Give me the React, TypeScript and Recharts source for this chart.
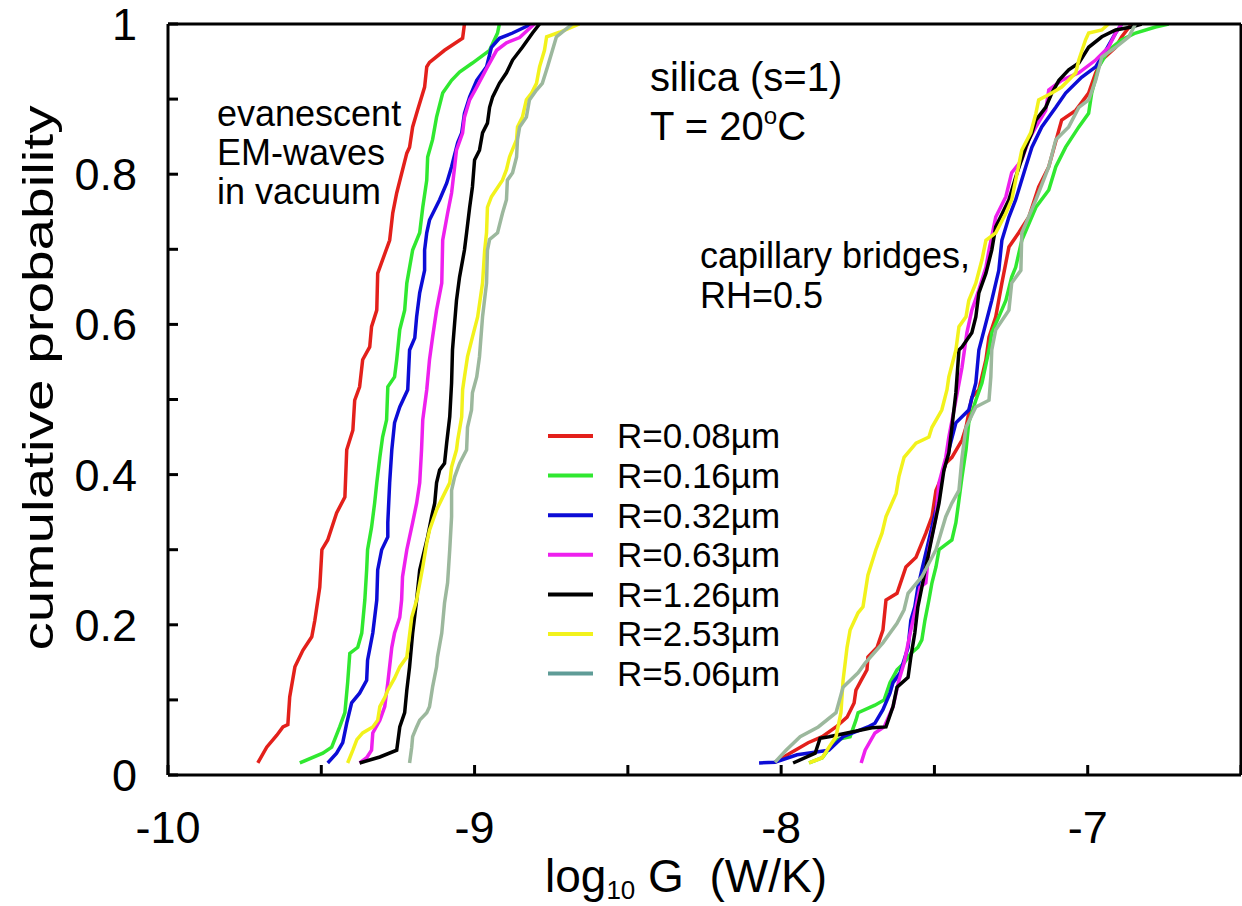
import { LineChart, Line, XAxis, YAxis, Legend } from "recharts";

type Pt = [number, number];

const font = '"Liberation Sans", Arial, Helvetica, sans-serif';

const radii = ["0.08", "0.16", "0.32", "0.63", "1.26", "2.53", "5.06"];
const lineColors = ["#e3201b", "#30e830", "#0c0cd6", "#ee20ee", "#000000", "#f2f21c", "#9cb89d"];
const legendColors = ["#e3201b", "#30e830", "#0c0cd6", "#ee20ee", "#000000", "#f2f21c", "#5f9c97"];

const xTicks = [-10, -9.5, -9, -8.5, -8, -7.5, -7, -6.5];
const yTicks = [0, 0.1, 0.2, 0.3, 0.4, 0.5, 0.6, 0.7, 0.8, 0.9, 1];

// evanescent EM-waves in vacuum (left group): [log10 G, cumulative probability]
const vacRed: Pt[] = [
  [-9.707, 0.016], [-9.678, 0.037], [-9.645, 0.053], [-9.625, 0.064], [-9.609, 0.067], [-9.603, 0.104],
  [-9.586, 0.144], [-9.56, 0.166], [-9.531, 0.184], [-9.521, 0.206], [-9.505, 0.25], [-9.498, 0.3],
  [-9.479, 0.313], [-9.45, 0.349], [-9.423, 0.37], [-9.417, 0.433], [-9.397, 0.459], [-9.391, 0.499],
  [-9.375, 0.517], [-9.365, 0.553], [-9.342, 0.57], [-9.336, 0.597], [-9.319, 0.619], [-9.316, 0.668],
  [-9.277, 0.712], [-9.267, 0.748], [-9.254, 0.775], [-9.221, 0.828], [-9.212, 0.836], [-9.202, 0.863],
  [-9.186, 0.885], [-9.163, 0.916], [-9.156, 0.943], [-9.147, 0.949], [-9.098, 0.965], [-9.039, 0.981],
  [-9.033, 1.0],
];
const vacGreen: Pt[] = [
  [-9.57, 0.016], [-9.495, 0.029], [-9.466, 0.037], [-9.44, 0.064], [-9.423, 0.083], [-9.414, 0.123],
  [-9.407, 0.162], [-9.381, 0.17], [-9.368, 0.189], [-9.358, 0.233], [-9.352, 0.273], [-9.349, 0.3],
  [-9.336, 0.33], [-9.326, 0.362], [-9.319, 0.389], [-9.309, 0.423], [-9.3, 0.45], [-9.287, 0.473],
  [-9.283, 0.517], [-9.261, 0.53], [-9.254, 0.553], [-9.244, 0.593], [-9.228, 0.619], [-9.221, 0.655],
  [-9.202, 0.699], [-9.179, 0.722], [-9.169, 0.756], [-9.156, 0.792], [-9.153, 0.823], [-9.137, 0.846],
  [-9.124, 0.876], [-9.104, 0.908], [-9.075, 0.925], [-9.049, 0.936], [-9.007, 0.948], [-8.951, 0.965],
  [-8.925, 0.988], [-8.919, 1.0],
];
const vacBlue: Pt[] = [
  [-9.479, 0.016], [-9.45, 0.029], [-9.43, 0.043], [-9.417, 0.069], [-9.401, 0.096], [-9.375, 0.109],
  [-9.352, 0.126], [-9.349, 0.153], [-9.332, 0.189], [-9.319, 0.233], [-9.316, 0.273], [-9.303, 0.3],
  [-9.283, 0.317], [-9.283, 0.336], [-9.277, 0.389], [-9.27, 0.433], [-9.261, 0.469], [-9.244, 0.49],
  [-9.218, 0.513], [-9.212, 0.566], [-9.195, 0.582], [-9.189, 0.61], [-9.179, 0.642], [-9.163, 0.672],
  [-9.163, 0.699], [-9.156, 0.722], [-9.147, 0.739], [-9.114, 0.766], [-9.091, 0.788], [-9.075, 0.81],
  [-9.055, 0.842], [-9.042, 0.855], [-9.033, 0.881], [-9.016, 0.903], [-8.993, 0.925], [-8.961, 0.943],
  [-8.945, 0.969], [-8.919, 0.981], [-8.876, 0.988], [-8.814, 1.0],
];
const vacMagenta: Pt[] = [
  [-9.375, 0.016], [-9.352, 0.023], [-9.336, 0.033], [-9.332, 0.056], [-9.309, 0.073], [-9.293, 0.091],
  [-9.283, 0.123], [-9.27, 0.17], [-9.261, 0.189], [-9.244, 0.21], [-9.238, 0.233], [-9.235, 0.264],
  [-9.221, 0.3], [-9.212, 0.317], [-9.202, 0.336], [-9.189, 0.362], [-9.179, 0.389], [-9.173, 0.433],
  [-9.169, 0.473], [-9.156, 0.513], [-9.147, 0.553], [-9.137, 0.583], [-9.124, 0.619], [-9.107, 0.655],
  [-9.104, 0.712], [-9.088, 0.748], [-9.075, 0.775], [-9.065, 0.81], [-9.059, 0.832], [-9.039, 0.855],
  [-9.033, 0.876], [-9.016, 0.899], [-8.993, 0.916], [-8.958, 0.943], [-8.928, 0.965], [-8.896, 0.975],
  [-8.853, 0.982], [-8.805, 1.0],
];
const vacBlack: Pt[] = [
  [-9.375, 0.016], [-9.309, 0.024], [-9.254, 0.033], [-9.244, 0.064], [-9.228, 0.083], [-9.221, 0.113],
  [-9.212, 0.144], [-9.202, 0.189], [-9.189, 0.233], [-9.179, 0.273], [-9.169, 0.29], [-9.153, 0.317],
  [-9.14, 0.344], [-9.13, 0.362], [-9.124, 0.389], [-9.114, 0.406], [-9.098, 0.415], [-9.091, 0.442],
  [-9.081, 0.477], [-9.075, 0.522], [-9.072, 0.566], [-9.065, 0.602], [-9.059, 0.632], [-9.049, 0.663],
  [-9.033, 0.699], [-9.026, 0.722], [-9.016, 0.756], [-9.007, 0.783], [-9.0, 0.819], [-8.984, 0.832],
  [-8.974, 0.855], [-8.958, 0.868], [-8.951, 0.889], [-8.941, 0.903], [-8.919, 0.921], [-8.896, 0.935],
  [-8.876, 0.952], [-8.844, 0.969], [-8.811, 0.988], [-8.788, 1.0],
];
const vacYellow: Pt[] = [
  [-9.414, 0.016], [-9.397, 0.033], [-9.384, 0.047], [-9.365, 0.056], [-9.332, 0.064], [-9.316, 0.073],
  [-9.309, 0.091], [-9.293, 0.103], [-9.283, 0.113], [-9.261, 0.129], [-9.244, 0.144], [-9.221, 0.157],
  [-9.205, 0.21], [-9.189, 0.233], [-9.169, 0.277], [-9.156, 0.309], [-9.147, 0.326], [-9.124, 0.353],
  [-9.104, 0.37], [-9.081, 0.389], [-9.075, 0.41], [-9.059, 0.433], [-9.055, 0.446], [-9.042, 0.477],
  [-9.039, 0.513], [-9.033, 0.53], [-9.023, 0.557], [-9.007, 0.583], [-8.99, 0.61], [-8.974, 0.655],
  [-8.967, 0.699], [-8.961, 0.722], [-8.958, 0.756], [-8.945, 0.77], [-8.909, 0.792], [-8.896, 0.806],
  [-8.886, 0.823], [-8.863, 0.846], [-8.86, 0.863], [-8.844, 0.876], [-8.831, 0.899], [-8.814, 0.908],
  [-8.798, 0.921], [-8.788, 0.943], [-8.772, 0.965], [-8.765, 0.983], [-8.723, 0.989], [-8.658, 1.0],
];
const vacGray: Pt[] = [
  [-9.212, 0.016], [-9.205, 0.037], [-9.202, 0.051], [-9.189, 0.064], [-9.179, 0.073], [-9.156, 0.083],
  [-9.147, 0.091], [-9.137, 0.117], [-9.124, 0.144], [-9.121, 0.157], [-9.107, 0.189], [-9.098, 0.229],
  [-9.088, 0.256], [-9.081, 0.3], [-9.075, 0.344], [-9.075, 0.379], [-9.065, 0.397], [-9.049, 0.415],
  [-9.026, 0.433], [-9.023, 0.463], [-9.01, 0.486], [-9.007, 0.509], [-8.993, 0.53], [-8.984, 0.557],
  [-8.974, 0.61], [-8.961, 0.655], [-8.958, 0.699], [-8.951, 0.713], [-8.925, 0.722], [-8.909, 0.748],
  [-8.896, 0.766], [-8.893, 0.792], [-8.876, 0.802], [-8.863, 0.823], [-8.86, 0.846], [-8.853, 0.863],
  [-8.831, 0.876], [-8.821, 0.899], [-8.798, 0.912], [-8.779, 0.921], [-8.762, 0.943], [-8.746, 0.965],
  [-8.733, 0.983], [-8.681, 1.0],
];

// capillary bridges, RH=0.5 (right group)
const capRed: Pt[] = [
  [-8.02, 0.017], [-7.971, 0.029], [-7.912, 0.043], [-7.866, 0.051], [-7.821, 0.064], [-7.785, 0.077],
  [-7.762, 0.096], [-7.756, 0.113], [-7.739, 0.126], [-7.72, 0.14], [-7.717, 0.157], [-7.687, 0.17],
  [-7.668, 0.193], [-7.658, 0.233], [-7.622, 0.242], [-7.593, 0.277], [-7.56, 0.29], [-7.528, 0.322],
  [-7.508, 0.344], [-7.495, 0.379], [-7.476, 0.397], [-7.463, 0.415], [-7.443, 0.423], [-7.41, 0.446],
  [-7.397, 0.463], [-7.378, 0.503], [-7.355, 0.513], [-7.332, 0.553], [-7.322, 0.583], [-7.3, 0.61],
  [-7.28, 0.655], [-7.257, 0.703], [-7.225, 0.722], [-7.192, 0.743], [-7.16, 0.783], [-7.127, 0.81],
  [-7.085, 0.872], [-7.039, 0.885], [-6.997, 0.908], [-6.974, 0.935], [-6.954, 0.952], [-6.909, 0.969],
  [-6.889, 0.983], [-6.857, 1.0],
];
const capGreen: Pt[] = [
  [-7.909, 0.016], [-7.866, 0.023], [-7.821, 0.047], [-7.775, 0.051], [-7.756, 0.073], [-7.749, 0.083],
  [-7.694, 0.093], [-7.664, 0.1], [-7.645, 0.123], [-7.622, 0.14], [-7.599, 0.149], [-7.577, 0.162],
  [-7.554, 0.17], [-7.541, 0.18], [-7.531, 0.206], [-7.518, 0.233], [-7.508, 0.256], [-7.495, 0.277],
  [-7.485, 0.3], [-7.443, 0.313], [-7.43, 0.336], [-7.42, 0.366], [-7.41, 0.397], [-7.397, 0.433],
  [-7.388, 0.469], [-7.365, 0.499], [-7.345, 0.522], [-7.322, 0.566], [-7.313, 0.589], [-7.29, 0.61],
  [-7.267, 0.632], [-7.248, 0.663], [-7.235, 0.676], [-7.215, 0.712], [-7.169, 0.756], [-7.127, 0.779],
  [-7.104, 0.81], [-7.072, 0.836], [-7.029, 0.863], [-6.997, 0.881], [-6.987, 0.908], [-6.964, 0.943],
  [-6.932, 0.965], [-6.889, 0.979], [-6.844, 0.988], [-6.779, 0.996], [-6.736, 1.0],
];
const capBlue: Pt[] = [
  [-8.072, 0.016], [-8.02, 0.017], [-7.948, 0.027], [-7.879, 0.031], [-7.844, 0.033], [-7.798, 0.051],
  [-7.717, 0.064], [-7.694, 0.069], [-7.668, 0.087], [-7.645, 0.109], [-7.635, 0.123], [-7.612, 0.136],
  [-7.586, 0.17], [-7.577, 0.206], [-7.564, 0.224], [-7.554, 0.25], [-7.541, 0.273], [-7.518, 0.313],
  [-7.495, 0.353], [-7.476, 0.397], [-7.453, 0.433], [-7.43, 0.469], [-7.388, 0.486], [-7.365, 0.522],
  [-7.355, 0.566], [-7.332, 0.602], [-7.313, 0.632], [-7.29, 0.672], [-7.28, 0.712], [-7.257, 0.743],
  [-7.235, 0.766], [-7.202, 0.81], [-7.182, 0.836], [-7.15, 0.863], [-7.104, 0.889], [-7.072, 0.908],
  [-7.02, 0.929], [-6.974, 0.943], [-6.941, 0.965], [-6.909, 0.988], [-6.889, 1.0],
];
const capMagenta: Pt[] = [
  [-7.739, 0.016], [-7.726, 0.033], [-7.694, 0.056], [-7.664, 0.064], [-7.635, 0.091], [-7.616, 0.126],
  [-7.599, 0.149], [-7.577, 0.193], [-7.56, 0.224], [-7.547, 0.25], [-7.528, 0.256], [-7.518, 0.3],
  [-7.495, 0.344], [-7.485, 0.389], [-7.463, 0.423], [-7.453, 0.45], [-7.43, 0.499], [-7.41, 0.543],
  [-7.394, 0.589], [-7.378, 0.619], [-7.355, 0.646], [-7.332, 0.676], [-7.322, 0.699], [-7.3, 0.743],
  [-7.267, 0.77], [-7.248, 0.802], [-7.215, 0.819], [-7.192, 0.846], [-7.169, 0.863], [-7.137, 0.885],
  [-7.127, 0.912], [-7.085, 0.925], [-7.029, 0.935], [-6.974, 0.952], [-6.932, 0.969], [-6.909, 0.988],
  [-6.889, 1.0],
];
const capBlack: Pt[] = [
  [-7.961, 0.016], [-7.889, 0.029], [-7.873, 0.049], [-7.844, 0.051], [-7.785, 0.056], [-7.704, 0.063],
  [-7.658, 0.064], [-7.635, 0.091], [-7.622, 0.117], [-7.586, 0.13], [-7.577, 0.157], [-7.564, 0.189],
  [-7.554, 0.224], [-7.541, 0.25], [-7.528, 0.277], [-7.508, 0.317], [-7.485, 0.362], [-7.469, 0.406],
  [-7.453, 0.429], [-7.443, 0.463], [-7.43, 0.509], [-7.42, 0.566], [-7.41, 0.57], [-7.378, 0.589],
  [-7.365, 0.61], [-7.355, 0.642], [-7.332, 0.668], [-7.313, 0.699], [-7.3, 0.73], [-7.257, 0.766],
  [-7.235, 0.796], [-7.202, 0.836], [-7.182, 0.855], [-7.169, 0.872], [-7.137, 0.889], [-7.117, 0.908],
  [-7.094, 0.925], [-7.062, 0.939], [-7.029, 0.948], [-6.997, 0.969], [-6.954, 0.983], [-6.909, 0.992],
  [-6.857, 0.996], [-6.824, 1.0],
];
const capYellow: Pt[] = [
  [-7.909, 0.016], [-7.866, 0.023], [-7.844, 0.037], [-7.821, 0.051], [-7.805, 0.083], [-7.798, 0.126],
  [-7.785, 0.17], [-7.775, 0.193], [-7.749, 0.216], [-7.733, 0.224], [-7.717, 0.266], [-7.691, 0.3],
  [-7.671, 0.322], [-7.658, 0.344], [-7.625, 0.375], [-7.616, 0.397], [-7.599, 0.423], [-7.56, 0.442],
  [-7.518, 0.45], [-7.508, 0.463], [-7.476, 0.486], [-7.459, 0.513], [-7.453, 0.53], [-7.43, 0.566],
  [-7.42, 0.597], [-7.397, 0.61], [-7.388, 0.632], [-7.365, 0.655], [-7.345, 0.686], [-7.332, 0.712],
  [-7.3, 0.722], [-7.267, 0.748], [-7.248, 0.766], [-7.235, 0.792], [-7.215, 0.832], [-7.186, 0.855],
  [-7.169, 0.881], [-7.16, 0.899], [-7.117, 0.908], [-7.085, 0.916], [-7.039, 0.935], [-7.029, 0.952],
  [-7.007, 0.979], [-6.997, 0.988], [-6.954, 0.992], [-6.932, 1.0],
];
const capGray: Pt[] = [
  [-8.02, 0.017], [-7.984, 0.033], [-7.938, 0.051], [-7.879, 0.064], [-7.821, 0.083], [-7.798, 0.117],
  [-7.749, 0.136], [-7.726, 0.149], [-7.668, 0.176], [-7.622, 0.202], [-7.599, 0.22], [-7.586, 0.242],
  [-7.541, 0.264], [-7.495, 0.3], [-7.463, 0.344], [-7.443, 0.362], [-7.42, 0.379], [-7.41, 0.423],
  [-7.397, 0.463], [-7.365, 0.49], [-7.322, 0.499], [-7.316, 0.53], [-7.313, 0.566], [-7.3, 0.593],
  [-7.257, 0.619], [-7.248, 0.655], [-7.218, 0.672], [-7.215, 0.722], [-7.169, 0.766], [-7.127, 0.81],
  [-7.104, 0.846], [-7.062, 0.863], [-7.029, 0.889], [-6.997, 0.899], [-6.974, 0.925], [-6.954, 0.956],
  [-6.909, 0.969], [-6.866, 0.983], [-6.844, 1.0],
];

const vacuum = [vacRed, vacGreen, vacBlue, vacMagenta, vacBlack, vacYellow, vacGray];
const capillary = [capRed, capGreen, capBlue, capMagenta, capBlack, capYellow, capGray];

const toRows = (pts: Pt[]) => pts.map(([g, p]) => ({ g, p }));

const axisStyle = { stroke: "#000", strokeWidth: 3 };
const tickFont = { fill: "#000", fontSize: 45, fontFamily: font };

const fmtX = (v: number) => (Number.isInteger(v) ? String(v) : "");
const fmtY = (v: number) => (Math.round(v * 10) % 2 === 0 ? String(v) : "");

function LegendBox() {
  return (
    <svg width={260} height={280} style={{ display: "block" }}>
      {radii.map((r, i) => {
        const cy = 20 + i * 39.6;
        return (
          <g key={r}>
            <line x1={8} x2={53} y1={cy} y2={cy} stroke={legendColors[i]} strokeWidth={4} />
            <text x={77} y={cy + 12.4} fontSize={35} fontFamily={font} fill="#000">
              {`R=${r}\u00b5m`}
            </text>
          </g>
        );
      })}
    </svg>
  );
}

export default function App() {
  return (
    <div style={{ position: "absolute", left: 0, top: 0, width: 1242, height: 906, background: "#fff" }}>
      <LineChart width={1242} height={906} margin={{ top: 23, right: 0, bottom: 31, left: 0 }}>
        <XAxis
          dataKey="g"
          type="number"
          domain={[-10, -6.5]}
          ticks={xTicks}
          interval={0}
          height={100}
          tickSize={-10}
          tickMargin={46}
          tickFormatter={fmtX}
          tick={tickFont}
          axisLine={axisStyle}
          tickLine={axisStyle}
          allowDataOverflow
        />
        <XAxis
          xAxisId="top"
          orientation="top"
          dataKey="g"
          type="number"
          domain={[-10, -6.5]}
          ticks={xTicks}
          interval={0}
          height={1}
          tickSize={-10}
          tick={false}
          axisLine={axisStyle}
          tickLine={axisStyle}
          allowDataOverflow
        />
        <YAxis
          type="number"
          domain={[0, 1]}
          ticks={yTicks}
          interval={0}
          width={168}
          tickSize={-10}
          tickMargin={41}
          tickFormatter={fmtY}
          tick={tickFont}
          axisLine={axisStyle}
          tickLine={axisStyle}
          allowDataOverflow
        />
        <YAxis
          yAxisId="right"
          orientation="right"
          type="number"
          domain={[0, 1]}
          ticks={yTicks}
          interval={0}
          width={1}
          tickSize={-10}
          tick={false}
          axisLine={axisStyle}
          tickLine={axisStyle}
          allowDataOverflow
        />
        {radii.map((r, i) => (
          <Line
            key={`vac-${r}`}
            data={toRows(vacuum[i])}
            dataKey="p"
            type="linear"
            stroke={lineColors[i]}
            strokeWidth={3.5}
            dot={false}
            legendType="none"
            isAnimationActive={false}
          />
        ))}
        {radii.map((r, i) => (
          <Line
            key={`cap-${r}`}
            data={toRows(capillary[i])}
            dataKey="p"
            type="linear"
            stroke={lineColors[i]}
            strokeWidth={3.5}
            dot={false}
            legendType="none"
            isAnimationActive={false}
          />
        ))}
        <Legend
          layout="vertical"
          align="center"
          verticalAlign="middle"
          content={() => <LegendBox />}
          wrapperStyle={{ position: "absolute", left: 540, top: 416, width: 260, height: 280 }}
        />
      </LineChart>
      <svg
        width={1242}
        height={906}
        style={{ position: "absolute", left: 0, top: 0, pointerEvents: "none" }}
        fontFamily={font}
        fill="#000"
      >
        <text x={650} y={91} fontSize={40}>silica (s=1)</text>
        <text x={650} y={140} fontSize={40}>
          T = 20
          <tspan fontSize={24} dy={-16}>o</tspan>
          <tspan dy={16}>C</tspan>
        </text>
        <text x={217} y={126} fontSize={36}>evanescent</text>
        <text x={217} y={165} fontSize={36}>EM-waves</text>
        <text x={217} y={204} fontSize={36}>in vacuum</text>
        <text x={700} y={268} fontSize={36}>capillary bridges,</text>
        <text x={700} y={308} fontSize={36}>RH=0.5</text>
        <text
          transform="translate(53,378) rotate(-90)"
          textAnchor="middle"
          fontSize={43}
          textLength={545}
          lengthAdjust="spacingAndGlyphs"
        >
          cumulative probability
        </text>
        <text x={545} y={892} fontSize={46} style={{ whiteSpace: "pre" }}>
          log
          <tspan fontSize={26} dy={7}>10</tspan>
          <tspan dy={-7}>{" G  (W/K)"}</tspan>
        </text>
      </svg>
    </div>
  );
}
